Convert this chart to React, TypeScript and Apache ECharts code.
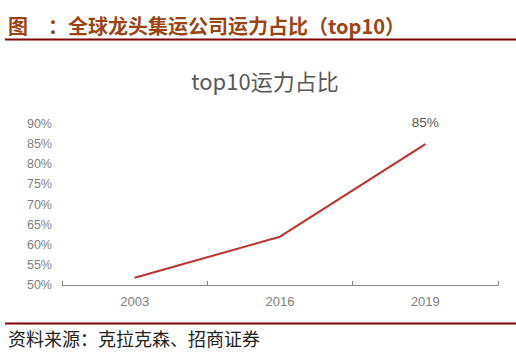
import React, { useEffect, useRef } from "react";
import * as echarts from "echarts";

const years = ["2003", "2016", "2019"];
const shares = [51.8, 62, 85];
const yTicks = { min: 50, max: 90, interval: 5 };
const headerText = "图　：全球龙头集运公司运力占比（top10）";
const chartTitle = "top10运力占比";
const sourceText = "资料来源：克拉克森、招商证券";

export default function App() {
  const ref = useRef<HTMLDivElement>(null);
  useEffect(() => {
    if (!ref.current) return;
    const chart = echarts.init(ref.current, null, { renderer: "svg" });
    const last = shares.length - 1;
    chart.setOption({
      animation: false,
      grid: { left: 62, right: 18, top: 124, bottom: 72, containLabel: false },
      xAxis: {
        type: "category",
        data: years,
        boundaryGap: true,
        axisLine: { lineStyle: { color: "#868686", width: 1 } },
        axisTick: { show: true, inside: true, length: 4, lineStyle: { color: "#868686" } },
        axisLabel: { color: "#7F7F7F", fontSize: 13, margin: 10, fontFamily: "Liberation Sans" },
      },
      yAxis: {
        type: "value",
        min: yTicks.min,
        max: yTicks.max,
        interval: yTicks.interval,
        axisLine: { show: false },
        axisTick: { show: false },
        splitLine: { show: false },
        axisLabel: {
          color: "#7F7F7F",
          fontSize: 12.5,
          margin: 10,
          fontFamily: "Liberation Sans",
          formatter: (v: number) => v + "%",
        },
      },
      series: [
        {
          type: "line",
          data: shares.map((v, i) =>
            i === last
              ? {
                  value: v,
                  label: {
                    show: true,
                    position: "top",
                    distance: 14,
                    formatter: (p: any) => Math.round(p.value) + "%",
                    color: "#595959",
                    fontSize: 13.5,
                    fontFamily: "Liberation Sans",
                  },
                }
              : v
          ),
          showSymbol: true,
          symbol: "circle",
          symbolSize: 1,
          itemStyle: { color: "rgba(0,0,0,0)" },
          lineStyle: { color: "#C0302B", width: 2 },
        },
      ],
      graphic: [
        {
          type: "text",
          left: 8,
          top: 15,
          style: {
            text: headerText,
            fontSize: 20,
            fontWeight: "bold",
            fill: "#9A4414",
            fontFamily: "Noto Sans CJK SC",
          },
        },
        {
          type: "rect",
          shape: { x: 5, y: 38.5, width: 511, height: 2 },
          style: { fill: "#7F0000" },
        },
        {
          type: "text",
          x: 265,
          y: 80,
          style: {
            text: chartTitle,
            fontSize: 22,
            fill: "#595959",
            align: "center",
            verticalAlign: "middle",
            fontFamily: "Noto Sans CJK SC",
          },
        },
        {
          type: "rect",
          shape: { x: 5, y: 322.5, width: 511, height: 2 },
          style: { fill: "#7F0000" },
        },
        {
          type: "text",
          x: 8,
          y: 338,
          style: {
            text: sourceText,
            fontSize: 18,
            fill: "#222222",
            verticalAlign: "middle",
            fontFamily: "Noto Sans CJK SC",
          },
        },
      ],
    });
    return () => chart.dispose();
  }, []);
  return (
    <div
      ref={ref}
      style={{ position: "absolute", left: 0, top: 0, width: 516, height: 357, background: "#fff" }}
    />
  );
}
